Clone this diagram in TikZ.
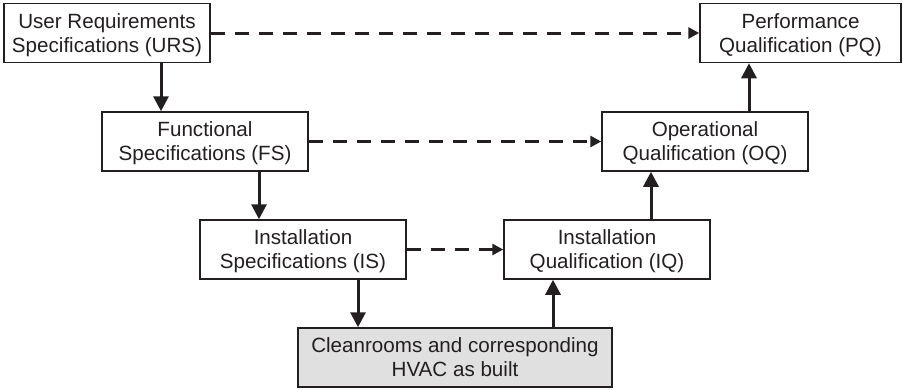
\documentclass[tikz,border=0pt]{standalone}
\usepackage{fontspec}
\setmainfont{Liberation Sans}
\usetikzlibrary{arrows.meta}
\definecolor{ink}{HTML}{231F20}
\definecolor{builtgray}{HTML}{E0E0E0}
\tikzset{
  stage/.style={draw=ink, line width=1.5pt, minimum width=206pt, minimum height=59pt,
    inner sep=0pt, text depth=0pt, align=center, text=ink, font=\fontsize{20.6}{24}\selectfont},
  flow/.style={draw=ink, line width=3pt, -{Triangle[length=15pt,width=15pt]}},
  trace/.style={draw=ink, line width=3pt, dash pattern=on 14pt off 10pt,
    -{Triangle[length=11pt,width=11pt]}},
}
\begin{document}
\begin{tikzpicture}[x=1pt,y=-1pt]
        \useasboundingbox (0,0) rectangle (903,389);
        % specification side
        \node[stage] (urs) at (107,33) {User Requirements\\Specifications (URS)};
        \node[stage] (fs) at (205,141.5) {Functional\\Specifications (FS)};
        \node[stage] (is) at (303,249.5) {Installation\\Specifications (IS)};
        % qualification side
        \node[stage, minimum width=201pt] (pq) at (800.5,33) {Performance\\Qualification (PQ)};
        \node[stage] (oq) at (705,141.5) {Operational\\Qualification (OQ)};
        \node[stage] (iq) at (607,249.5) {Installation\\Qualification (IQ)};
        \node[stage, fill=builtgray, minimum width=314pt] (built) at (455,357.5) {Cleanrooms and corresponding\\HVAC as built};
        % solid arrows
        \draw[flow] ([xshift=54pt]urs.south) -- ([xshift=-44pt]fs.north);
        \draw[flow] ([xshift=54pt]fs.south) -- ([xshift=-44pt]is.north);
        \draw[flow] ([xshift=55pt]is.south) -- ([xshift=-97pt]built.north);
        \draw[flow] ([xshift=98pt]built.north) -- ([xshift=-54pt]iq.south);
        \draw[flow] ([xshift=44pt]iq.north) -- ([xshift=-54pt]oq.south);
        \draw[flow] ([xshift=44pt]oq.north) -- ([xshift=-51.5pt]pq.south);
        % dashed arrows
        \draw[trace] (urs.east) -- (pq.west);
        \draw[trace] (fs.east) -- (oq.west);
        \draw[trace] (is.east) -- (iq.west);
    \end{tikzpicture}
\end{document}
